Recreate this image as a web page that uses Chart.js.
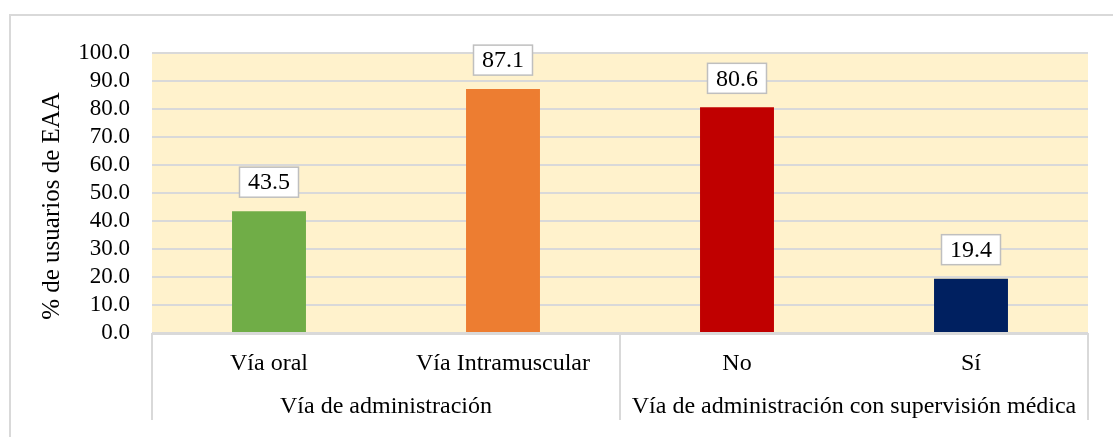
<!DOCTYPE html>
<html>
<head>
<meta charset="utf-8">
<script src="https://cdn.jsdelivr.net/npm/chart.js@4"></script>
<style>
  html, body { margin: 0; padding: 0; background: #fff; }
  #wrap { width: 1113px; height: 437px; position: relative; }
</style>
</head>
<body>
<div id="wrap"><canvas id="chart"></canvas></div>
<script>
  const categories = ["Vía oral", "Vía Intramuscular", "No", "Sí"];
  const values = [43.5, 87.1, 80.6, 19.4];
  const barColors = ["#70AD47", "#ED7D31", "#C00000", "#002060"];
  const groupNames = ["Vía de administración", "Vía de administración con supervisión médica"];
  const groupSizes = [2, 2];
  const yTitle = "% de usuarios de EAA";

  const serif = "'Liberation Serif', 'Times New Roman', serif";
  const lineGray = "#d9d9d9";

  // fondo, borde exterior, títulos y etiquetas de grupo
  const decor = {
    id: "decor",
    beforeDraw(chart) {
      const { ctx, chartArea: a } = chart;
      ctx.save();
      ctx.strokeStyle = lineGray;
      ctx.lineWidth = 2;
      ctx.strokeRect(10, 15, 1200, 600);
      ctx.fillStyle = "#FFF2CC";
      ctx.fillRect(a.left, a.top, a.right - a.left, a.bottom - a.top);
      ctx.restore();
    },
    afterDraw(chart) {
      const { ctx, chartArea: a } = chart;
      const step = (a.right - a.left) / categories.length;
      ctx.save();
      // separadores de grupo
      ctx.strokeStyle = lineGray;
      ctx.lineWidth = 2;
      ctx.beginPath();
      ctx.moveTo(a.left, a.bottom + 1);
      ctx.lineTo(a.right, a.bottom + 1);
      let idx = 0;
      const edges = [0];
      groupSizes.forEach(n => { idx += n; edges.push(idx); });
      edges.forEach(e => {
        const px = a.left + e * step;
        ctx.moveTo(px, a.bottom);
        ctx.lineTo(px, 420);
      });
      ctx.stroke();
      // nombres de grupo
      ctx.fillStyle = "#000";
      ctx.font = "24px " + serif;
      ctx.textAlign = "center";
      ctx.textBaseline = "middle";
      let start = 0;
      groupNames.forEach((g, i) => {
        const cx = a.left + (start + groupSizes[i] / 2) * step;
        ctx.fillText(g, cx, 407);
        start += groupSizes[i];
      });
      // título eje Y
      ctx.font = "25px " + serif;
      ctx.translate(52, 206);
      ctx.rotate(-Math.PI / 2);
      ctx.fillText(yTitle, 0, 0);
      ctx.restore();

      // etiquetas de valor en cajas
      const meta = chart.getDatasetMeta(0);
      ctx.save();
      ctx.font = "24px " + serif;
      ctx.textAlign = "center";
      ctx.textBaseline = "middle";
      meta.data.forEach((bar, i) => {
        const w = 59, h = 30;
        const bx = bar.x - w / 2, by = bar.y - 14 - h;
        ctx.fillStyle = "#fff";
        ctx.fillRect(bx, by, w, h);
        ctx.strokeStyle = "#bfbfbf";
        ctx.lineWidth = 1.5;
        ctx.strokeRect(bx, by, w, h);
        ctx.fillStyle = "#000";
        ctx.fillText(values[i].toFixed(1), bar.x, by + h / 2 + 1);
      });
      ctx.restore();
    }
  };

  new Chart(document.getElementById("chart"), {
    type: "bar",
    data: {
      labels: categories,
      datasets: [{
        data: values,
        backgroundColor: barColors,
        barPercentage: 0.316,
        categoryPercentage: 1
      }]
    },
    options: {
      responsive: true,
      maintainAspectRatio: false,
      animation: false,
      layout: { padding: { top: 53, right: 25, left: 0, bottom: 0 } },
      plugins: { legend: { display: false }, tooltip: { enabled: false } },
      scales: {
        x: {
          grid: { display: false, drawTicks: false },
          border: { display: false },
          ticks: { color: "#000", font: { family: serif, size: 24 }, padding: 16, maxRotation: 0 },
          afterFit: s => { s.height = 104; }
        },
        y: {
          min: 0, max: 100,
          grid: { color: lineGray, lineWidth: 2, drawTicks: false },
          border: { display: false },
          ticks: {
            stepSize: 10, autoSkip: false, color: "#000", padding: 22,
            font: { family: serif, size: 23 },
            callback: v => v.toFixed(1)
          },
          afterFit: s => { s.width = 152; }
        }
      }
    },
    plugins: [decor]
  });
</script>
</body>
</html>
